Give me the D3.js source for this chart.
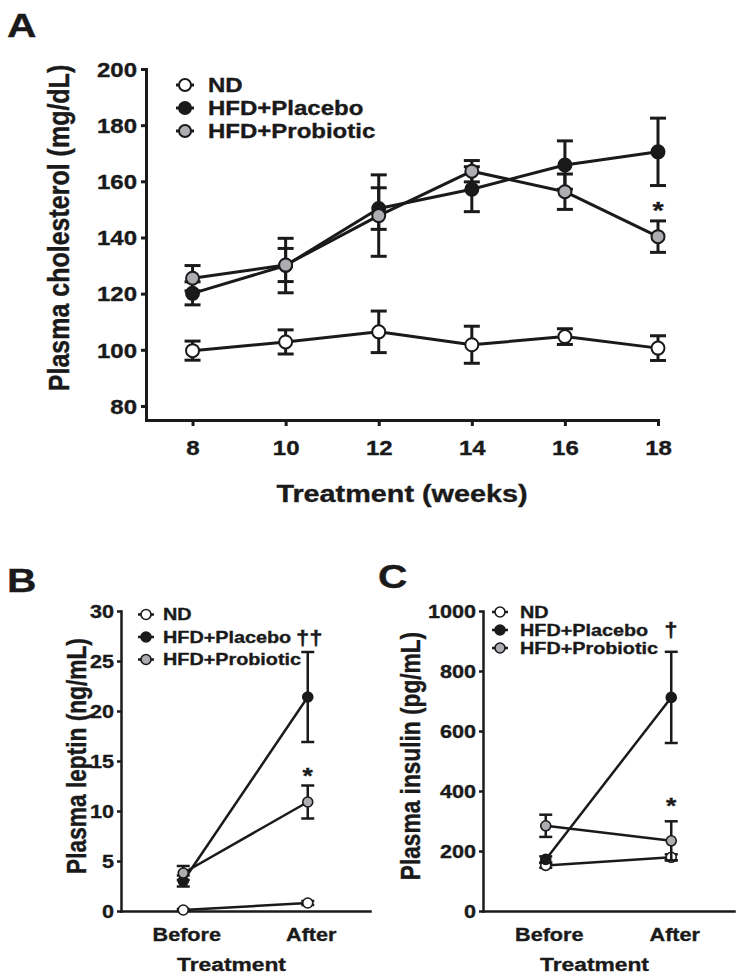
<!DOCTYPE html>
<html><head><meta charset="utf-8">
<script src="https://cdn.jsdelivr.net/npm/d3@7"></script>
<style>body{margin:0;background:#fff}svg text{font-family:"Liberation Sans",Arial,sans-serif;font-weight:bold;fill:#1a1a1a;stroke:#1a1a1a;stroke-width:0.35px}</style>
</head><body>
<svg id="c" width="742" height="979"></svg>
<script>
// ---------- DATA ----------
const seriesNames = ["ND", "HFD+Placebo", "HFD+Probiotic"];
// Panel A: plasma cholesterol (mg/dL)
const weeks = [8, 10, 12, 14, 16, 18];
const cholND = [99.7, 102.8, 106.4, 101.8, 104.7, 100.6];
const cholNDerr = [3.4, 4.3, 7.4, 6.6, 2.8, 4.4];
const cholPlacebo = [120.1, 130.0, 150.3, 157.2, 165.8, 170.5];
const cholPlaceboErr = [4.1, 9.7, 7.4, 8.0, 8.6, 12.0];
const cholProbiotic = [125.5, 130.2, 147.8, 163.6, 156.3, 140.3];
const cholProbioticErr = [4.5, 5.9, 14.5, 3.8, 6.3, 5.6];
const cholTicks = [80, 100, 120, 140, 160, 180, 200];
const weekTicks = [8, 10, 12, 14, 16, 18];
// Panel B: plasma leptin (ng/mL)
const phases = ["Before", "After"];
const leptinND = [0.1, 0.8];
const leptinNDerr = [0.1, 0.2];
const leptinPlacebo = [3.0, 21.4];
const leptinPlaceboErr = [0.55, 4.5];
const leptinProbiotic = [3.8, 10.9];
const leptinProbioticErr = [0.7, 1.65];
const leptinTicks = [0, 5, 10, 15, 20, 25, 30];
// Panel C: plasma insulin (pg/mL)
const insulinND = [152, 179];
const insulinNDerr = [8, 10];
const insulinPlacebo = [172, 712];
const insulinPlaceboErr = [10, 152];
const insulinProbiotic = [284, 234];
const insulinProbioticErr = [37, 65];
const insulinTicks = [0, 200, 400, 600, 800, 1000];

// ---------- STYLE ----------
const INK = "#1a1a1a";
const fills = [ "#ffffff", "#1a1a1a", "#adadb2" ];
const SX = 1.2; // horizontal stretch of the original typography
const svg = d3.select("#c");

function txt(g, x, y, s, size, anchor, rot) {
  return g.append("text")
    .attr("transform", `translate(${x},${y}) scale(${SX},1)` + (rot ? " rotate(-90)" : ""))
    .attr("text-anchor", anchor || "start")
    .style("font-size", size + "px")
    .text(s);
}

function styleAxis(g, w, fs, tl, pad, vertical) {
  g.select(".domain").attr("stroke", INK).attr("stroke-width", w).attr("stroke-linecap", "square");
  g.selectAll(".tick line").attr("stroke", INK).attr("stroke-width", w);
  g.selectAll(".tick text").attr("fill", INK).style("font-size", fs + "px")
    .style("font-family", '"Liberation Sans",Arial,sans-serif').style("font-weight", "bold")
    .each(function () {
      const t = d3.select(this);
      if (vertical) {
        t.attr("x", -(tl + pad) / SX).attr("dy", "0.36em");
      } else {
        t.attr("x", 0);
      }
      t.attr("transform", `scale(${SX},1)`);
    });
}

function drawSeries(g, xs, ys, vals, errs, idx, o) {
  const pts = xs.map((x, i) => [x, ys(vals[i])]);
  g.append("path").attr("d", d3.line()(pts)).attr("fill", "none")
    .attr("stroke", INK).attr("stroke-width", o.lw).attr("stroke-linejoin", "round");
  const eg = g.append("g").attr("stroke", INK).attr("stroke-width", o.ew);
  vals.forEach((v, i) => {
    const x = xs[i], y0 = ys(v - errs[i]), y1 = ys(v + errs[i]);
    eg.append("line").attr("x1", x).attr("x2", x).attr("y1", y0).attr("y2", y1);
    eg.append("line").attr("x1", x - o.cap / 2).attr("x2", x + o.cap / 2).attr("y1", y0).attr("y2", y0);
    eg.append("line").attr("x1", x - o.cap / 2).attr("x2", x + o.cap / 2).attr("y1", y1).attr("y2", y1);
  });
  vals.forEach((v, i) => {
    g.append("circle").attr("cx", xs[i]).attr("cy", ys(v)).attr("r", o.r)
      .attr("fill", fills[idx]).attr("stroke", INK).attr("stroke-width", o.sw);
  });
}

function legend(g, mx, tx, rows, fs, o) {
  seriesNames.forEach((n, i) => {
    const y = rows[i];
    g.append("line").attr("x1", mx - o.r - 3).attr("x2", mx + o.r + 3).attr("y1", y).attr("y2", y)
      .attr("stroke", INK).attr("stroke-width", o.lw);
    g.append("circle").attr("cx", mx).attr("cy", y).attr("r", o.r)
      .attr("fill", fills[i]).attr("stroke", INK).attr("stroke-width", o.sw);
    txt(g, tx, y + fs * 0.36, n, fs, "start");
  });
}

// ---------- PANEL A ----------
{
  const g = svg.append("g");
  const x = d3.scaleLinear().domain([7, 18]).range([146, 658]);
  const y = d3.scaleLinear().domain([75, 200]).range([420, 69]);
  const ax = g.append("g").attr("transform", "translate(0,420)")
    .call(d3.axisBottom(x).tickValues(weekTicks).tickSize(6).tickSizeOuter(0).tickPadding(9).tickFormat(d3.format("d")));
  styleAxis(ax, 3, 20, 6, 9, false);
  ax.selectAll(".tick text").attr("dy", "1em");
  const ay = g.append("g").attr("transform", "translate(146,0)")
    .call(d3.axisLeft(y).tickValues(cholTicks).tickSize(5).tickSizeOuter(0).tickPadding(4).tickFormat(d3.format("d")));
  styleAxis(ay, 3, 20, 5, 4, true);
  const o = { r: 6.5, sw: 2, lw: 3, ew: 3, cap: 16 };
  const xs = weeks.map(x);
  drawSeries(g, xs, y, cholND, cholNDerr, 0, o);
  drawSeries(g, xs, y, cholPlacebo, cholPlaceboErr, 1, o);
  drawSeries(g, xs, y, cholProbiotic, cholProbioticErr, 2, o);
  legend(g, 185, 208, [85, 108, 131], 20, { r: 6, sw: 2, lw: 3 });
  txt(g, x(18), 219, "*", 24, "middle");
  txt(g, 402, 502, "Treatment (weeks)", 24, "middle");
  txt(g, 69, 228, "Plasma cholesterol (mg/dL)", 25, "middle", true);
  txt(g, 7, 37, "A", 34, "start");
}

// ---------- PANELS B & C ----------
function smallPanel(cfg) {
  const g = svg.append("g");
  const x = d3.scalePoint().domain(phases).range([cfg.x0, cfg.x1]).padding(0.5);
  const y = d3.scaleLinear().domain([0, cfg.max]).range([911, 611]);
  const ax = g.append("g").attr("transform", "translate(0,911)")
    .call(d3.axisBottom(x).tickSize(0).tickSizeOuter(0).tickPadding(14));
  styleAxis(ax, 2.5, 18, 0, 14, false);
  ax.selectAll(".tick text").attr("dy", "0.9em").attr("x", 3 / SX);
  const ay = g.append("g").attr("transform", `translate(${cfg.x0},0)`)
    .call(d3.axisLeft(y).tickValues(cfg.ticks).tickSize(4).tickSizeOuter(0).tickPadding(3).tickFormat(d3.format("d")));
  styleAxis(ay, 2.5, 18, 4, 3, true);
  const o = { r: 5, sw: 1.6, lw: 2.5, ew: 2.5, cap: 13 };
  const xs = phases.map(x);
  cfg.series.forEach((s, i) => drawSeries(g, xs, y, s[0], s[1], i, o));
  legend(g, cfg.lx, cfg.lt, cfg.rows, 16.5, { r: 5, sw: 1.6, lw: 2.5 });
  txt(g, x("After"), cfg.starY, "*", 22, "middle");
  txt(g, cfg.dagX, cfg.dagY, cfg.dag, 20, cfg.dagAnchor);
  txt(g, (xs[0] + xs[1]) / 2 - 14, 971, "Treatment", 19, "middle");
  txt(g, cfg.ylx, 756, cfg.ylab, 22.7, "middle", true);
  txt(g, cfg.px, cfg.py, cfg.plab, 34, "start");
}
smallPanel({
  x0: 121, x1: 370, max: 30, ticks: leptinTicks,
  series: [[leptinND, leptinNDerr], [leptinPlacebo, leptinPlaceboErr], [leptinProbiotic, leptinProbioticErr]],
  lx: 146, lt: 163, rows: [614.5, 637, 659.5],
  starY: 783, dag: "\u2020\u2020", dagX: 296, dagY: 645, dagAnchor: "start",
  ylx: 86, ylab: "Plasma leptin (ng/mL)", px: 7, py: 592, plab: "B"
});
smallPanel({
  x0: 483, x1: 734, max: 1000, ticks: insulinTicks,
  series: [[insulinND, insulinNDerr], [insulinPlacebo, insulinPlaceboErr], [insulinProbiotic, insulinProbioticErr]],
  lx: 500, lt: 520, rows: [612, 630, 648],
  starY: 813, dag: "\u2020", dagX: 671, dagY: 637, dagAnchor: "middle",
  ylx: 420, ylab: "Plasma insulin (pg/mL)", px: 378, py: 588, plab: "C"
});
</script>
</body></html>
